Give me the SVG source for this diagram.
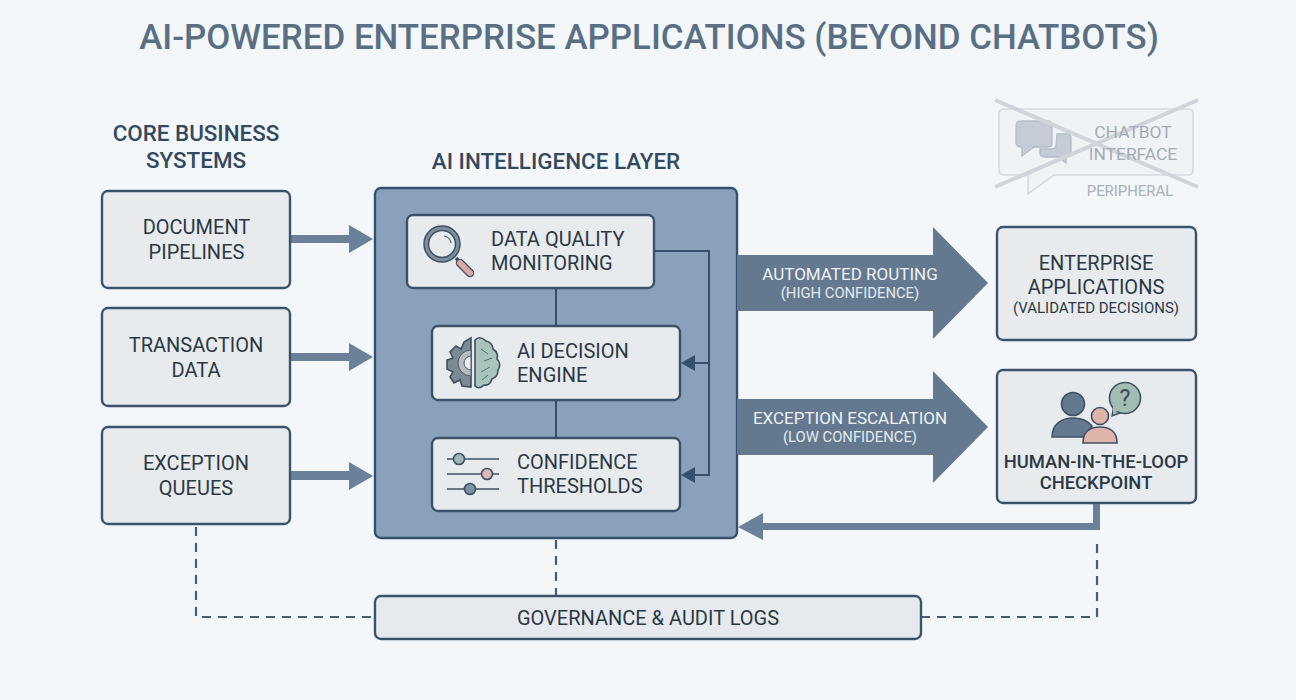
<svg xmlns="http://www.w3.org/2000/svg" width="1296" height="700" viewBox="0 0 1296 700">
<defs>
<style>
text{font-family:Roboto,"Liberation Sans",sans-serif;text-anchor:middle;fill:#2b3845}
.box{fill:#e8ebee;stroke:#3c526b;stroke-width:2.4}
.t{font-size:20px}
.h{font-size:22.4px;font-weight:500;fill:#34495f}
.thin{fill:none;stroke:#34506e;stroke-width:2}
.dash{fill:none;stroke:#4a5d70;stroke-width:2.2;stroke-dasharray:9 7}
.arr{fill:#6b8099}
.big{fill:#64798f}
.w{fill:#eef2f6;font-size:17px}
.w2{fill:#e3e9ef;font-size:14.8px}
.ic{stroke:#3f5060;stroke-width:1.6}
.s{text-anchor:start}
</style>
</defs>
<rect width="1296" height="700" fill="#f3f7fa"/>
<text x="649" y="49" style="font-size:34.9px;fill:#5a6f84;font-weight:500">AI-POWERED ENTERPRISE APPLICATIONS (BEYOND CHATBOTS)</text>
<text class="h" x="196" y="141">CORE BUSINESS</text>
<text class="h" x="196" y="168">SYSTEMS</text>
<text class="h" x="556" y="169">AI INTELLIGENCE LAYER</text>

<g id="ai-layer"><rect x="375" y="188" width="362" height="350" rx="6" fill="#8aa1bb" stroke="#34506e" stroke-width="2.4"/></g>

<g id="connectors">
<path class="thin" d="M556 288V326M556 400V438M654 251H709V475H690M709 363H690"/>
<path d="M681 363L695 355V371ZM681 475L695 467V483Z" fill="#34506e"/>
<path class="arr" d="M290 235H349V225L373 239L349 253V243H290Z"/>
<path class="arr" d="M290 353H349V343L373 357L349 371V361H290Z"/>
<path class="arr" d="M290 471H349V462L373 476L349 490V480H290Z"/>
<path class="big" d="M737 255H933V227L988 283L933 339V311H737Z"/>
<path class="big" d="M737 399H933V371L988 427L933 483V455H737Z"/>
<path class="arr" d="M1100 503V530H763V540L738 527L763 513V523H1093V503Z"/>
<path class="dash" d="M196 527V617H375M556 540V596M921 617H1097V543"/>
</g>

<text class="w" x="850" y="280">AUTOMATED ROUTING</text>
<text class="w2" x="850" y="298">(HIGH CONFIDENCE)</text>
<text class="w" x="850" y="424">EXCEPTION ESCALATION</text>
<text class="w2" x="850" y="442">(LOW CONFIDENCE)</text>

<g id="document-pipelines"><rect class="box" x="102" y="191" width="188" height="97" rx="6"/><text class="t" x="196.500" y="234">DOCUMENT</text><text class="t" x="196.500" y="259">PIPELINES</text></g>
<g id="transaction-data"><rect class="box" x="102" y="308" width="188" height="98" rx="6"/><text class="t" x="196" y="352">TRANSACTION</text><text class="t" x="196" y="377">DATA</text></g>
<g id="exception-queues"><rect class="box" x="102" y="427" width="188" height="97" rx="6"/><text class="t" x="196" y="470">EXCEPTION</text><text class="t" x="196" y="495">QUEUES</text></g>

<g id="data-quality">
<rect class="box" x="407" y="215" width="247" height="73" rx="6"/>
<path d="M456 258L461 263" stroke="#3f5060" stroke-width="3.500"/>
<path d="M460 263L470 273" stroke="#3f5060" stroke-width="8.500" stroke-linecap="round"/>
<path d="M460 263L470 273" stroke="#dba9a2" stroke-width="6" stroke-linecap="round"/>
<circle cx="442" cy="244" r="18" fill="#808e9c" stroke="#3f5060" stroke-width="1.500"/>
<circle cx="442" cy="244" r="13.500" fill="#e8ebee" stroke="#3f5060" stroke-width="1.500"/>
<path d="M444 236a8 8 0 0 1 7 7" fill="none" stroke="#4a5d70" stroke-width="1.200"/>
<text class="t s" x="491" y="246">DATA QUALITY</text><text class="t s" x="491" y="270">MONITORING</text>
</g>
<g id="decision-engine">
<rect class="box" x="432" y="326" width="248" height="74" rx="6"/>
<path class="ic" fill="#7d8993" d="M471 338V387L462 386L460 380L454 383L450 377L453 372L447 369V360L453 358L450 352L456 346L461 349L464 342Z"/>
<path d="M471 350a13 13 0 0 0 0 26Z" fill="#b6bcc3" stroke="#4f5c68"/>
<path d="M471 356a7 7 0 0 0 0 14Z" fill="#e8ebee" stroke="#4f5c68"/>
<path class="ic" fill="#a9c4bc" d="M475 340Q480 335 486 341Q492 342 493 349Q499 353 497 359Q502 364 498 370Q498 377 492 379Q490 386 484 385Q479 390 475 386Z"/>
<path d="M481 349L488 354M484 361L492 358M481 372L490 367M482 380L488 375" stroke="#4f7066" fill="none"/>
<text class="t s" x="517" y="358">AI DECISION</text><text class="t s" x="517" y="382">ENGINE</text>
</g>
<g id="confidence-thresholds">
<rect class="box" x="432" y="438" width="248" height="73" rx="6"/>
<path d="M447 459H499M447 474H499M447 489H499" stroke="#3f5060" stroke-width="1.600"/>
<circle class="ic" cx="459" cy="459" r="5.500" fill="#a3b6b8"/>
<circle class="ic" cx="487" cy="474" r="5.500" fill="#dfb8bb"/>
<circle class="ic" cx="470" cy="489" r="5.500" fill="#7d94a6"/>
<text class="t s" x="517" y="469">CONFIDENCE</text><text class="t s" x="517" y="493">THRESHOLDS</text>
</g>
<g id="enterprise-applications"><rect class="box" x="997" y="227" width="199" height="113" rx="6"/><text class="t" x="1096" y="270">ENTERPRISE</text><text class="t" x="1096" y="294">APPLICATIONS</text><text x="1096" y="313" style="font-size:15px">(VALIDATED DECISIONS)</text></g>
<g id="human-in-the-loop">
<rect class="box" x="997" y="370" width="199" height="133" rx="6"/>
<path d="M1114 405L1112 416L1123 412Z" fill="#a3bcb2" stroke="#3f5060" stroke-width="1.400"/>
<circle cx="1125" cy="398" r="15.500" fill="#a3bcb2" stroke="#3f5060" stroke-width="1.600"/>
<path d="M1113 406l0 7 7-3z" fill="#a3bcb2"/>
<text x="1125" y="406" style="font-size:23px;fill:#3a4a58">?</text>
<circle cx="1073" cy="404" r="11.500" fill="#64788f" stroke="#3f5060" stroke-width="1.600"/>
<path d="M1052 437C1052 424 1062 418 1073 418C1082 418 1088 421 1092 426L1085 437Z" fill="#64788f" stroke="#3f5060" stroke-width="1.600"/>
<circle cx="1100" cy="416" r="8.500" fill="#dfb5ab" stroke="#3f5060" stroke-width="1.600"/>
<path d="M1083 443C1083 432 1090 427 1100 427C1110 427 1117 432 1117 443Z" fill="#dfb5ab" stroke="#3f5060" stroke-width="1.600"/>
<text x="1096" y="468" style="font-size:18.400px;font-weight:500">HUMAN-IN-THE-LOOP</text><text x="1096" y="489" style="font-size:18.400px;font-weight:500">CHECKPOINT</text>
</g>
<g id="governance"><rect class="box" x="375" y="596" width="546" height="43" rx="6" style="fill:#e6eaee"/><text class="t" x="648" y="625">GOVERNANCE &amp; AUDIT LOGS</text></g>

<g id="chatbot-interface">
<path d="M1005 109H1188Q1193 109 1193 114V170Q1193 175 1188 175H1054L1028 194V175H1005Q999 175 999 170V114Q999 109 1005 109Z" fill="#f0f3f6" stroke="#d5dae0" stroke-width="1.600"/>
<path d="M1022 121H1048Q1052 121 1052 125V143Q1052 147 1048 147H1034L1022 156V147Q1016 147 1016 143V125Q1016 121 1022 121Z" fill="#c5ccd5" stroke="#b4bcc6" stroke-width="1.300"/>
<path d="M1057 134H1067Q1071 134 1071 138V153Q1071 157 1067 157H1066V163L1058 157H1045Q1040 157 1040 153V149H1052Q1056 149 1056 145Z" fill="#c5ccd5" stroke="#b4bcc6" stroke-width="1.300"/>
<path d="M995 100L1198 187M1198 100L995 187" stroke="#d0d5db" stroke-width="4" fill="none"/>
<text x="1133" y="138" style="font-size:17.400px;fill:#a3abb5">CHATBOT</text><text x="1133" y="160" style="font-size:17.400px;fill:#a3abb5">INTERFACE</text>
<text x="1130" y="196" style="font-size:14.900px;fill:#a8b0ba">PERIPHERAL</text>
</g>
</svg>
